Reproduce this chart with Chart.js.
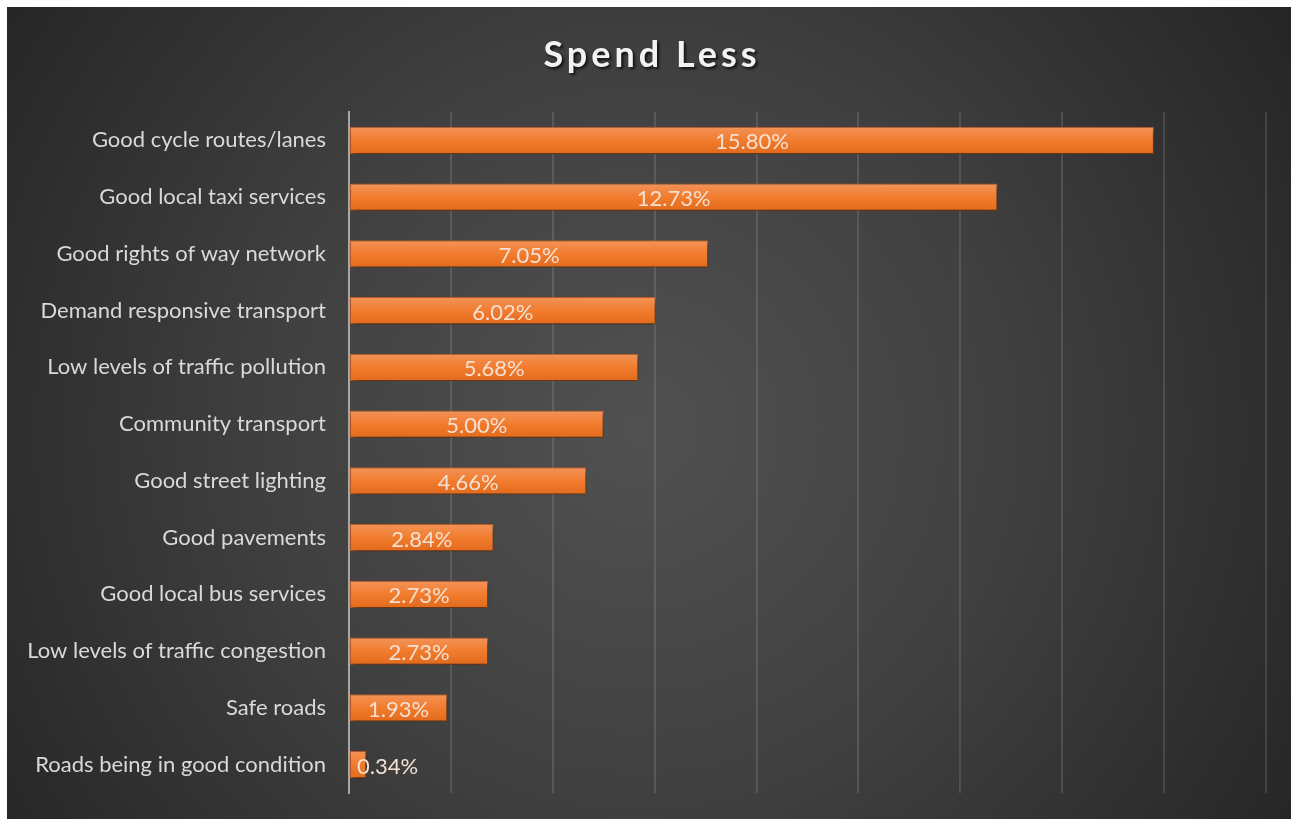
<!DOCTYPE html>
<html>
<head>
<meta charset="utf-8">
<title>Spend Less</title>
<script src="https://cdn.jsdelivr.net/npm/chart.js@4/dist/chart.umd.min.js"></script>
<style>
  html, body { margin: 0; padding: 0; background: #ffffff; }
  #wrap { width: 1291px; height: 819px; }
</style>
</head>
<body>
<div id="wrap"><canvas id="chart" width="1291" height="819"></canvas></div>
<script>
// Survey answers: share of respondents wanting less spending on each item
const categories = [
  'Good cycle routes/lanes',
  'Good local taxi services',
  'Good rights of way network',
  'Demand responsive transport',
  'Low levels of traffic pollution',
  'Community transport',
  'Good street lighting',
  'Good pavements',
  'Good local bus services',
  'Low levels of traffic congestion',
  'Safe roads',
  'Roads being in good condition'
];
const spendLessPct = [15.80, 12.73, 7.05, 6.02, 5.68, 5.00, 4.66, 2.84, 2.73, 2.73, 1.93, 0.34];
const chartTitle = 'Spend Less';
const axisMax = 18;
const axisStep = 2;

const FONT = 'Lato, "Open Sans", sans-serif';
const BAR_SHARE = 0.476;

// Dark panel with a soft radial glow behind everything
const panelBackground = {
  id: 'panelBackground',
  beforeDraw(chart) {
    const { ctx, width, height } = chart;
    ctx.save();
    ctx.fillStyle = '#ffffff';
    ctx.fillRect(0, 0, width, height);
    const g = ctx.createRadialGradient(640, 430, 0, 640, 430, 820);
    g.addColorStop(0, '#515151');
    g.addColorStop(0.45, '#404040');
    g.addColorStop(1, '#222222');
    ctx.fillStyle = g;
    ctx.fillRect(7, 7, width - 7, height - 7);
    ctx.restore();
  }
};

// Embossed title text
const titleText = {
  id: 'titleText',
  afterDraw(chart) {
    const { ctx } = chart;
    ctx.save();
    ctx.font = 'bold 36px ' + FONT;
    ctx.letterSpacing = '4px';
    ctx.textAlign = 'center';
    ctx.textBaseline = 'alphabetic';
    ctx.shadowColor = 'rgba(0,0,0,0.75)';
    ctx.shadowOffsetX = 2;
    ctx.shadowOffsetY = 2;
    ctx.shadowBlur = 3;
    ctx.fillStyle = '#f2f2f2';
    ctx.fillText(chartTitle, 652, 67);
    ctx.restore();
  }
};

// Drop shadow under the bars, then value labels on top
const barShadowAndLabels = {
  id: 'barShadowAndLabels',
  beforeDatasetsDraw(chart) {
    const ctx = chart.ctx;
    ctx.save();
    ctx.shadowColor = 'rgba(0,0,0,0.55)';
    ctx.shadowOffsetX = 2;
    ctx.shadowOffsetY = 3;
    ctx.shadowBlur = 5;
  },
  afterDatasetsDraw(chart) {
    const ctx = chart.ctx;
    ctx.restore();
    const meta = chart.getDatasetMeta(0);
    const left = chart.chartArea.left;
    ctx.save();
    ctx.font = '22px ' + FONT;
    ctx.fillStyle = '#f4e0d2';
    ctx.textBaseline = 'middle';
    ctx.textAlign = 'center';
    meta.data.forEach((bar, i) => {
      const text = spendLessPct[i].toFixed(2) + '%';
      const w = ctx.measureText(text).width;
      let cx = (bar.base + bar.x) / 2;
      if (cx - w / 2 < left) cx = left + 8 + w / 2;
      ctx.fillText(text, cx, bar.y + 2);
    });
    ctx.restore();
  }
};

function barGradient(context) {
  const chart = context.chart;
  const yScale = chart.scales && chart.scales.y;
  if (!yScale || context.dataIndex === undefined) return '#f17c2e';
  const cy = yScale.getPixelForValue(context.dataIndex);
  const half = (yScale.height / categories.length) * BAR_SHARE / 2;
  if (!isFinite(cy) || !isFinite(half) || half <= 0) return '#f17c2e';
  const g = chart.ctx.createLinearGradient(0, cy - half, 0, cy + half);
  g.addColorStop(0, '#f39358');
  g.addColorStop(0.5, '#f17c2e');
  g.addColorStop(1, '#e26a1c');
  return g;
}

new Chart(document.getElementById('chart'), {
  type: 'bar',
  data: {
    labels: categories,
    datasets: [{
      label: chartTitle,
      data: spendLessPct,
      backgroundColor: barGradient,
      borderColor: 'rgba(200,95,30,0.9)',
      borderWidth: 1,
      borderSkipped: false,
      categoryPercentage: BAR_SHARE,
      barPercentage: 1
    }]
  },
  options: {
    indexAxis: 'y',
    responsive: false,
    animation: false,
    layout: { padding: { top: 112, bottom: 26, right: 25, left: 0 } },
    plugins: {
      legend: { display: false },
      title: { display: false },
      tooltip: { enabled: false }
    },
    scales: {
      x: {
        min: 0,
        max: axisMax,
        ticks: { display: false, stepSize: axisStep },
        grid: { color: 'rgba(255,255,255,0.12)', lineWidth: 2, drawTicks: false, tickLength: 0 },
        border: { display: false },
        afterFit(scale) {
          scale.height = 0;
          scale.paddingLeft = scale.paddingRight = 0;
        }
      },
      y: {
        ticks: { color: '#d9d9d9', font: { family: FONT, size: 22 }, padding: 23, autoSkip: false },
        grid: { display: false, drawTicks: false, tickLength: 0 },
        border: { display: true, color: '#a6a6a6', width: 2 },
        afterFit(scale) {
          scale.width = 349;
          scale.paddingTop = scale.paddingBottom = 0;
        }
      }
    }
  },
  plugins: [panelBackground, titleText, barShadowAndLabels]
});
</script>
</body>
</html>
